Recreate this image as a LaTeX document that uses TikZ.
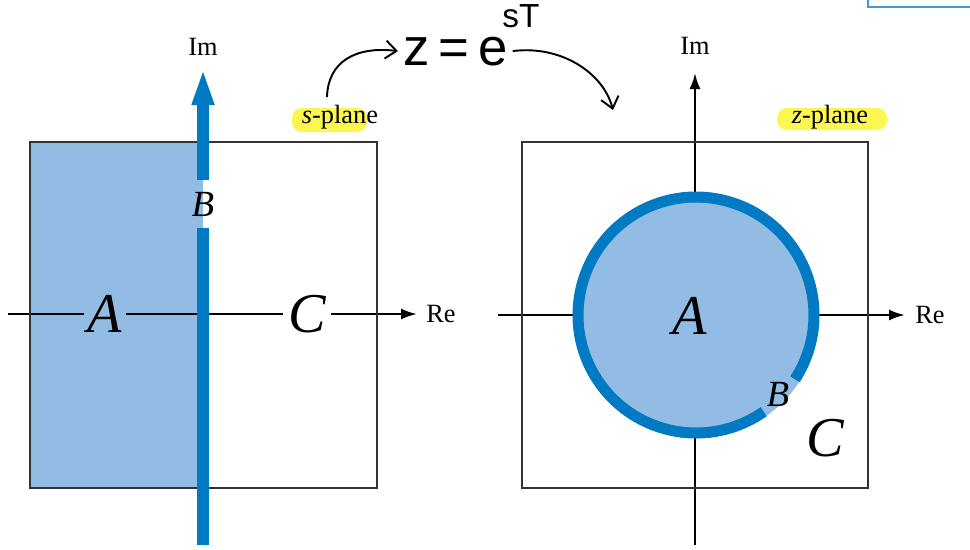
\documentclass[tikz,border=0pt]{standalone}
\usepackage{fontspec}
\setmainfont{Liberation Serif}
\newfontfamily\handfont{Liberation Sans}
\usetikzlibrary{arrows.meta}
\definecolor{planeblue}{RGB}{146,188,228}
\definecolor{ringblue}{RGB}{0,122,194}
\definecolor{hilite}{RGB}{252,246,80}
\definecolor{edgeblue}{RGB}{70,150,220}
\begin{document}
\begin{tikzpicture}[x=0.02cm, y=-0.02cm,
    axis/.style={line width=1.3pt, -{Latex[length=0.32cm,width=0.22cm]}},
    frame/.style={line width=0.9pt, draw=black!80},
    big/.style={font=\fontsize{32}{32}\selectfont\itshape, inner sep=2pt},
    small/.style={font=\fontsize{21}{21}\selectfont\itshape, inner sep=0pt},
    lbl/.style={font=\fontsize{15}{15}\selectfont, inner sep=1pt},
    hand/.style={line width=1.1pt, -{Straight Barb[length=0.22cm,width=0.36cm]}}]
    \useasboundingbox (0,0) rectangle (970,549);

    % s-plane
    \fill[planeblue] (30,142) rectangle (203,488);
    \fill[hilite, rounded corners=0.2cm] (292,108) rectangle (367,132);
    \coordinate (lw) at (8,314);
    \node[big] (lA) at (105,314) {A};
    \node[big, inner sep=3pt] (lC) at (307,314) {C};
    \node[lbl, anchor=west, inner xsep=0.18cm] (lre) at (417,314) {Re};
    \node[lbl] (lim) at (203,47) {Im};
    \node[lbl] (splane) at (340,117) {\textit{s}-plane};
    \draw[line width=1.3pt] (lw) -- (lA) (lA) -- (lC);
    \draw[axis] (lC) -- (lre);
    \draw[frame] (30,142) rectangle (377,488);

    % imaginary axis of the s-plane
    \coordinate (lbot) at (203,545);
    \coordinate (ltop) at (203,68);
    \node[small, minimum height=0.94cm] (lB) at (203,204) {B};
    \draw[ringblue, line width=0.24cm] (lbot) -- (lB);
    \draw[ringblue, line width=0.24cm, -{Triangle[length=0.74cm,width=0.4cm]}] (lB) -- (ltop);

    % z-plane
    \fill[hilite, rounded corners=0.2cm] (777,108) rectangle (887,130);
    \coordinate (rw) at (498,315);
    \coordinate (rbot) at (695,545);
    \coordinate (rtop) at (695,73);
    \node[lbl, anchor=west, inner xsep=0.2cm] (rre) at (905,315) {Re};
    \node[lbl] (rim) at (695,46) {Im};
    \node[lbl] (zplane) at (830,117) {\textit{z}-plane};
    \draw[axis] (rw) -- (rre);
    \draw[axis] (rbot) -- (rtop);
    \draw[frame] (522,142) rectangle (868,488);

    % unit circle with the gap at B
    \coordinate (rc) at (696,315);
    \fill[planeblue] (rc) circle[radius=123];
    \draw[ringblue, line width=0.22cm] ([shift={(55:118)}]rc) arc[start angle=55, end angle=393, radius=118];
    \node[big] (rA) at (690,316) {A};
    \node[small] (rB) at (778,394) {B};
    \node[big] (rC) at (825,438) {C};

    % handwritten mapping
    \node[font=\handfont\fontsize{30}{30}\selectfont, anchor=base west, inner xsep=0.1cm, inner ysep=0pt] (zmap) at (398,65) {z\,=\,e};
    \node[font=\handfont\fontsize{19}{19}\selectfont, anchor=base west, inner sep=0pt] (zexp) at (502,27) {sT};
    \coordinate (hs) at (327,97);
    \coordinate (he) at (613,110);
    \draw[hand] (hs) .. controls (328,62) and (355,46) .. (zmap.west);
    \draw[hand] (zmap.east) .. controls (560,45) and (603,72) .. (he);

    % clipped box at the top right
    \draw[edgeblue, line width=1.5pt] (868,-5) -- (868,7) -- (975,7);
\end{tikzpicture}
\end{document}
